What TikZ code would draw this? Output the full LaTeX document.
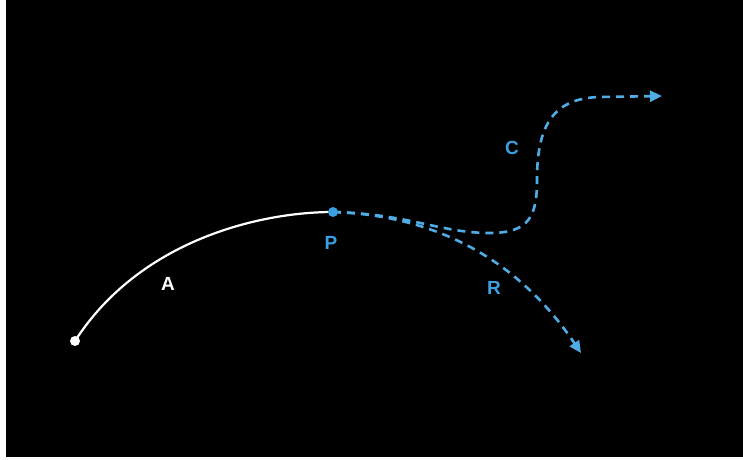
\documentclass[tikz,border=0pt]{standalone}
\usepackage{fontspec}
\setmainfont{Liberation Sans}
\usetikzlibrary{arrows.meta}
\definecolor{pathblue}{RGB}{58,160,225}
\definecolor{dashblue}{RGB}{80,172,228}
\tikzset{
  whitedot/.style={circle, fill=white, inner sep=0pt, minimum size=10pt},
  bluedot/.style={circle, fill=pathblue, inner sep=0pt, minimum size=10pt},
  lbl/.style={font=\fontsize{19}{21}\selectfont\bfseries, inner sep=0pt},
  solidpath/.style={white, line width=2.2pt},
  dashpath/.style={dashblue, line width=2.6pt, dash pattern=on 8pt off 6pt,
    -{Triangle[length=12pt,width=11pt]}},
}
\begin{document}
\begin{tikzpicture}[x=1pt,y=-1pt]
  % page and dark panel
  \fill[white] (0,0) rectangle (743,459);
  \fill[black] (6,0) rectangle (743,457);
  \useasboundingbox (0,0) rectangle (743,459);

  % points
  \node[whitedot] (start) at (75,341) {};
  \coordinate (rend) at (581,353);
  \coordinate (cend) at (662,96);

  % solid arc A ending at P
  \draw[solidpath] (start.center) .. controls (140,240) and (260,212) .. (333,212);

  % dashed continuations R and C
  \draw[dashpath] (333,212) .. controls (430,215) and (515,255) .. (rend);
  \draw[dashpath] (333,212) .. controls (410,214) and (440,233) .. (490,233)
    .. controls (530,233) and (537,215) .. (537,180)
    .. controls (537,130) and (550,98) .. (600,97) -- (cend);

  \node[bluedot] (p) at (333,212) {};

  % labels
  \node[lbl, text=white] (la) at (168,284) {A};
  \node[lbl, text=pathblue] (lp) at (331,243) {P};
  \node[lbl, text=pathblue] (lr) at (494,288) {R};
  \node[lbl, text=pathblue] (lc) at (512,148) {C};
\end{tikzpicture}
\end{document}
